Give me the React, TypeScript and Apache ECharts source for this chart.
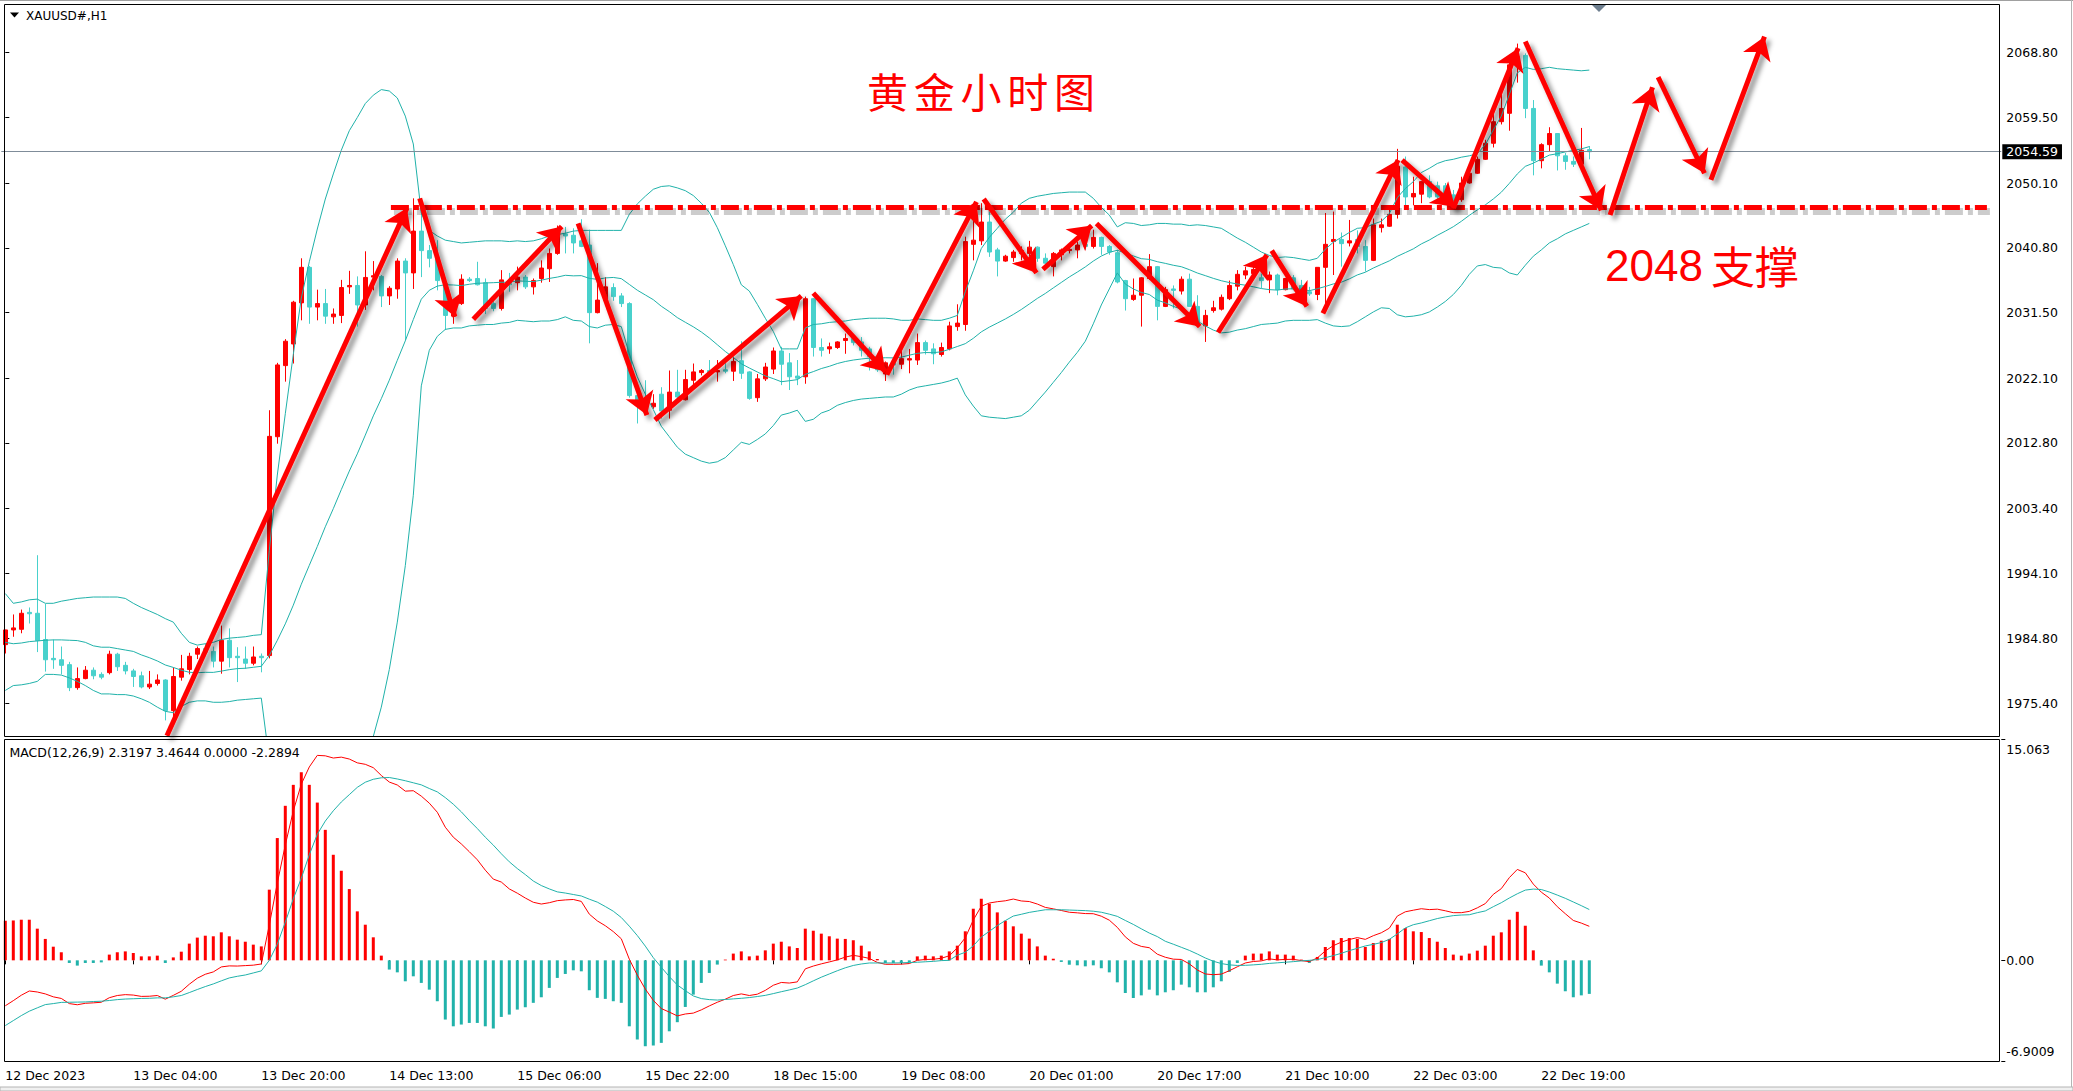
import React, { useEffect, useRef } from 'react';
import * as echarts from 'echarts';

// ---------- axis / label data ----------
const SLOT_COUNT = 250; // visible bar slots incl. empty right-side space
const tickLabels = [
  '12 Dec 2023', '13 Dec 04:00', '13 Dec 20:00', '14 Dec 13:00', '15 Dec 06:00',
  '15 Dec 22:00', '18 Dec 15:00', '19 Dec 08:00', '20 Dec 01:00', '20 Dec 17:00',
  '21 Dec 10:00', '22 Dec 03:00', '22 Dec 19:00',
];
const TICK_EVERY = 16;
const priceTicks = [2068.8, 2059.5, 2050.1, 2040.8, 2031.5, 2022.1, 2012.8, 2003.4, 1994.1, 1984.8, 1975.4];
const PRICE_MIN = 1970.69;
const PRICE_MAX = 2075.71;
const macdTicks = [15.063, 0, -6.9009];
const macdTickLabels = ['15.063', '0.00', '-6.9009'];
const MACD_MIN = -6.9009;
const MACD_MAX = 15.063;
const lastPrice = 2054.59;
const supportLevel = 2046.6;
const supportSpan = [48.2, 247.7];

// ---------- candles (XAUUSD H1) ----------
const opens = [
  1983.87,1985.98,1986.07,1988.5,1988.37,1984.6,1981.9,1981.7,1981.0,1977.7,
  1979.0,1980.2,1979.6,1979.85,1982.5,1980.9,1980.1,1979.4,1977.8,1978.3,
  1978.8,1974.4,1979.2,1980.3,1982.5,1983.3,1982.9,1981.5,1984.5,1982.2,
  1981.8,1981.2,1982.2,1982.3,2013.7,2023.9,2027.0,2032.9,2038.0,2032.3,
  2032.8,2030.9,2031.1,2035.2,2035.4,2032.6,2036.6,2036.7,2033.9,2034.9,
  2038.9,2037.2,2043.2,2040.4,2039.3,2035.7,2031.0,2032.8,2036.3,2036.4,
  2035.8,2032.8,2032.1,2036.1,2035.8,2036.6,2035.2,2036.4,2037.8,2040.0,
  2042.8,2042.6,2041.8,2041.2,2031.5,2033.3,2035.1,2033.9,2032.8,2019.6,
  2018.9,2018.0,2019.8,2017.5,2020.1,2019.0,2021.8,2022.9,2023.2,2023.0,
  2023.3,2023.1,2024.6,2023.0,2019.3,2022.0,2023.4,2026.0,2024.3,2022.4,
  2022.3,2033.5,2026.5,2026.3,2026.5,2027.5,2027.8,2027.3,2026.3,2025.2,
  2022.7,2024.3,2024.1,2024.7,2024.7,2027.2,2026.3,2025.5,2026.3,2029.5,
  2029.8,2041.3,2041.8,2044.5,2040.5,2038.9,2039.4,2040.0,2040.0,2040.9,
  2039.3,2038.1,2039.8,2040.4,2040.5,2041.3,2041.0,2042.3,2041.0,2040.1,
  2036.1,2033.4,2034.0,2036.4,2038.1,2032.4,2034.9,2034.6,2036.3,2032.4,
  2029.6,2031.8,2032.0,2033.5,2035.3,2036.9,2037.1,2036.5,2036.2,2036.9,
  2034.8,2036.5,2035.4,2034.5,2034.1,2038.0,2041.7,2042.0,2041.5,2042.0,
  2041.0,2039.0,2043.7,2043.9,2045.6,2052.4,2048.1,2048.5,2050.3,2049.7,
  2049.7,2048.4,2047.7,2050.1,2051.5,2053.5,2055.8,2058.9,2060.1,2067.0,
  2068.4,2060.8,2053.3,2055.6,2057.2,2054.0,2053.2,2052.8,2054.9,
];
const closes = [
  1985.98,1986.27,1988.37,1988.3,1984.45,1981.7,1981.7,1980.9,1977.7,1979.0,
  1980.2,1979.4,1979.2,1982.5,1980.7,1980.1,1979.3,1977.8,1978.2,1978.8,
  1974.4,1979.3,1980.4,1982.2,1983.3,1982.8,1981.5,1984.5,1982.0,1982.0,
  1981.2,1982.1,1982.0,2013.75,2024.0,2027.4,2033.0,2038.0,2032.3,2032.8,
  2031.0,2031.3,2035.1,2035.4,2032.6,2036.55,2036.8,2033.9,2035.0,2038.9,
  2037.2,2043.2,2040.4,2039.3,2036.1,2031.1,2032.4,2036.3,2036.1,2035.5,
  2032.1,2032.1,2036.2,2035.5,2036.6,2035.2,2036.1,2037.9,2040.0,2042.6,
  2042.5,2041.5,2041.0,2031.5,2033.3,2035.2,2033.8,2032.8,2019.6,2018.9,
  2018.4,2018.5,2017.4,2020.1,2019.4,2021.9,2023.0,2023.2,2022.8,2023.2,
  2023.1,2024.5,2022.8,2019.2,2022.0,2023.7,2026.0,2024.1,2022.3,2022.1,
  2033.5,2026.5,2026.1,2026.6,2027.3,2027.8,2027.2,2026.1,2025.2,2023.3,
  2024.3,2024.0,2024.9,2024.9,2027.2,2026.1,2025.6,2026.5,2029.6,2030.0,
  2041.7,2041.9,2044.5,2040.2,2038.9,2039.6,2040.2,2040.4,2040.9,2039.3,
  2038.6,2040.0,2040.5,2040.6,2041.2,2041.0,2042.3,2041.0,2040.2,2035.9,
  2033.5,2034.0,2036.5,2038.1,2032.4,2034.8,2034.7,2036.3,2032.4,2029.7,
  2031.1,2032.2,2033.7,2035.4,2037.0,2037.5,2037.7,2036.1,2036.9,2034.8,
  2036.4,2034.9,2034.7,2034.2,2038.0,2041.3,2042.0,2041.4,2041.8,2041.0,
  2039.0,2044.1,2044.1,2045.6,2052.5,2048.1,2048.6,2050.3,2048.1,2048.1,
  2048.4,2047.7,2050.1,2051.5,2053.5,2055.8,2058.9,2060.8,2067.05,2068.2,
  2060.8,2053.3,2055.6,2057.2,2054.0,2053.2,2052.8,2054.8,2054.59,
];
const lows = [
  1982.6,1985.0,1985.5,1986.9,1982.8,1980.0,1980.4,1979.6,1977.2,1977.4,
  1978.9,1978.9,1978.9,1979.6,1980.1,1979.6,1977.8,1977.6,1977.5,1978.0,
  1973.0,1973.4,1978.7,1979.6,1981.8,1982.3,1980.6,1979.7,1980.6,1978.5,
  1980.4,1980.9,1979.9,1981.9,2012.7,2021.6,2024.2,2030.4,2029.9,2030.4,
  2029.9,2029.9,2030.0,2034.2,2029.5,2031.9,2034.7,2032.3,2032.6,2033.5,
  2027.5,2034.9,2036.6,2038.0,2034.7,2029.0,2029.9,2032.6,2035.9,2035.4,
  2031.3,2031.7,2031.8,2034.5,2034.7,2034.9,2034.1,2035.8,2035.9,2039.8,
  2040.0,2040.0,2040.9,2027.1,2031.4,2033.0,2033.2,2032.3,2019.3,2015.6,
  2016.8,2017.7,2016.3,2016.3,2018.9,2018.9,2021.1,2022.5,2022.3,2021.6,
  2022.8,2021.7,2022.0,2019.0,2018.7,2021.7,2022.7,2021.1,2020.4,2021.1,
  2021.3,2025.2,2025.2,2025.6,2026.3,2025.6,2026.8,2025.2,2023.2,2023.0,
  2021.7,2022.6,2023.4,2022.8,2024.0,2025.5,2024.1,2025.2,2026.1,2028.9,
  2028.9,2039.0,2041.2,2039.5,2036.7,2038.8,2038.8,2039.0,2039.6,2038.8,
  2038.1,2036.7,2039.0,2040.0,2039.3,2040.5,2040.7,2039.8,2039.8,2035.7,
  2031.8,2033.2,2029.5,2036.2,2030.4,2032.3,2032.1,2034.1,2032.3,2029.5,
  2027.3,2031.5,2031.8,2033.3,2034.7,2036.3,2036.6,2035.0,2034.3,2034.0,
  2034.7,2034.7,2034.2,2033.9,2033.3,2032.3,2036.9,2038.1,2041.0,2040.0,
  2037.4,2038.9,2043.0,2043.8,2045.0,2046.9,2046.9,2047.2,2047.9,2047.7,
  2047.7,2047.4,2047.4,2050.0,2051.4,2053.4,2055.2,2058.5,2057.6,2064.5,
  2059.4,2051.2,2052.2,2054.7,2051.9,2052.0,2052.4,2052.7,2053.5,
];
const highs = [
  1986.0,1988.2,1988.9,1989.2,1996.7,1989.7,1984.6,1983.6,1981.4,1980.6,
  1980.8,1980.6,1979.9,1983.0,1982.7,1981.4,1980.4,1980.0,1980.1,1979.6,
  1978.9,1980.6,1982.4,1982.7,1983.6,1984.0,1983.6,1986.6,1986.2,1983.5,
  1983.6,1983.6,1982.6,2017.5,2024.3,2027.7,2033.2,2039.3,2038.2,2034.8,
  2034.9,2032.1,2036.2,2037.5,2036.7,2040.3,2038.9,2036.9,2035.3,2039.3,
  2039.3,2047.9,2047.9,2041.2,2041.9,2036.1,2032.9,2037.0,2036.6,2038.8,
  2036.4,2033.3,2037.6,2037.2,2038.1,2036.9,2036.4,2039.0,2040.7,2044.0,
  2043.8,2043.6,2044.9,2043.4,2038.6,2036.6,2035.7,2034.3,2033.0,2020.3,
  2021.8,2019.8,2020.8,2023.2,2023.3,2023.3,2024.2,2023.4,2024.7,2024.7,
  2024.4,2025.2,2027.4,2023.1,2022.7,2024.3,2026.5,2026.6,2025.7,2024.7,
  2033.8,2033.6,2027.8,2027.2,2027.4,2028.5,2028.0,2028.0,2026.6,2025.6,
  2024.5,2024.7,2026.2,2026.3,2028.5,2027.5,2027.1,2027.2,2030.2,2032.7,
  2042.4,2046.2,2047.2,2046.0,2040.8,2039.8,2040.5,2041.0,2041.8,2041.0,
  2040.0,2040.2,2040.7,2041.0,2041.7,2041.9,2043.4,2042.4,2041.2,2040.5,
  2036.2,2036.4,2036.6,2039.9,2038.2,2035.2,2035.4,2036.7,2037.1,2034.0,
  2031.9,2033.2,2034.1,2036.1,2037.6,2038.1,2038.6,2037.1,2037.4,2037.1,
  2036.5,2036.9,2036.2,2035.2,2038.0,2045.8,2046.0,2043.0,2044.8,2043.3,
  2041.9,2045.0,2045.0,2046.9,2055.0,2053.9,2051.0,2050.3,2051.2,2050.3,
  2050.1,2049.1,2051.0,2052.7,2053.9,2056.3,2060.7,2063.5,2067.5,2070.1,
  2068.7,2062.0,2055.8,2058.1,2057.2,2054.4,2053.9,2058.0,2055.4,
];

// ---------- Bollinger bands (20, 2) ----------
const bbUpper = [
  1991.2,1989.8,1990.0,1990.3,1990.4,1989.8,1989.8,1990.1,1990.3,1990.5,
  1990.6,1990.7,1990.7,1990.7,1990.7,1990.5,1989.8,1989.2,1988.7,1988.2,
  1987.6,1987.1,1985.5,1984.2,1983.8,1984.0,1984.2,1984.6,1984.8,1984.9,
  1985.0,1985.2,1985.3,1997.4,2008.2,2017.0,2025.5,2033.6,2038.8,2043.5,
  2047.8,2051.4,2054.8,2057.6,2059.5,2061.5,2062.7,2063.5,2063.3,2062.3,
  2059.7,2055.7,2045.8,2043.3,2042.5,2041.9,2041.7,2041.5,2041.6,2041.7,
  2041.8,2041.8,2041.8,2041.7,2041.8,2041.7,2041.8,2042.1,2042.5,2042.7,
  2042.9,2043.2,2043.3,2043.3,2043.3,2043.3,2043.3,2043.3,2045.6,2047.1,
  2048.2,2049.2,2049.6,2049.7,2049.4,2049.0,2048.3,2047.2,2045.9,2043.7,
  2041.1,2038.4,2035.5,2034.6,2032.7,2030.7,2028.8,2026.3,2026.3,2026.3,
  2029.3,2029.8,2029.9,2030.1,2030.2,2030.3,2030.5,2030.6,2030.7,2030.7,
  2030.7,2030.6,2030.4,2030.4,2030.6,2030.5,2030.4,2030.4,2030.7,2031.1,
  2034.5,2037.5,2040.7,2042.3,2043.6,2044.9,2045.9,2047.2,2047.9,2048.2,
  2048.4,2048.6,2048.7,2048.8,2048.8,2048.8,2047.9,2046.6,2045.5,2043.8,
  2044.4,2044.3,2044.0,2044.1,2044.3,2044.3,2044.2,2044.2,2044.0,2044.1,
  2044.0,2043.8,2043.6,2042.9,2042.2,2041.6,2040.9,2040.2,2039.7,2039.4,
  2039.5,2039.4,2039.2,2039.0,2039.3,2040.6,2041.6,2042.3,2043.0,2043.6,
  2043.7,2044.2,2044.6,2045.7,2048.0,2049.3,2050.3,2051.6,2052.2,2052.9,
  2053.3,2053.5,2053.8,2054.0,2054.3,2055.6,2057.7,2059.7,2062.8,2065.9,
  2066.7,2066.4,2066.5,2066.7,2066.5,2066.4,2066.3,2066.2,2066.3,
];
const bbMid = [
  1984.2,1984.0,1984.1,1984.3,1984.4,1984.5,1984.55,1984.55,1984.5,1984.45,
  1984.2,1983.7,1983.5,1983.5,1983.3,1983.1,1982.9,1982.4,1982.0,1981.53,
  1980.95,1980.6,1980.2,1979.9,1979.84,1979.9,1979.89,1980.07,1980.28,1980.43,
  1980.48,1980.62,1980.76,1982.32,1984.48,1986.85,1989.53,1992.54,1995.25,1997.95,
  2000.78,2003.38,2006.11,2008.77,2011.24,2013.93,2016.69,2019.16,2021.81,2024.66,
  2027.46,2030.51,2033.43,2034.71,2035.31,2035.5,2035.47,2035.38,2035.57,2035.71,
  2035.76,2035.8,2035.86,2035.86,2036.06,2036.0,2035.96,2036.16,2036.41,2036.6,
  2036.86,2036.78,2036.81,2036.42,2036.28,2036.48,2036.55,2036.38,2035.55,2034.72,
  2034.04,2033.36,2032.42,2031.65,2030.79,2030.12,2029.47,2028.73,2027.87,2026.9,
  2025.93,2025.08,2024.17,2023.56,2022.99,2022.42,2022.03,2021.59,2021.73,2021.89,
  2022.64,2023.04,2023.48,2023.8,2024.2,2024.49,2024.7,2024.85,2024.97,2024.97,
  2025.03,2025.01,2025.11,2025.4,2025.66,2025.78,2025.76,2025.88,2026.24,2026.64,
  2027.05,2027.82,2028.74,2029.42,2030.0,2030.59,2031.24,2031.95,2032.74,2033.54,
  2034.25,2035.05,2035.83,2036.62,2037.32,2038.06,2038.9,2039.62,2040.15,2040.45,
  2040.04,2039.64,2039.24,2039.14,2038.81,2038.57,2038.3,2038.09,2037.67,2037.19,
  2036.81,2036.42,2036.08,2035.82,2035.61,2035.44,2035.21,2034.96,2034.8,2034.74,
  2034.89,2034.93,2034.84,2034.65,2034.93,2035.25,2035.62,2035.87,2036.34,2036.91,
  2037.3,2037.9,2038.42,2038.93,2039.58,2040.11,2040.65,2041.36,2041.92,2042.59,
  2043.19,2043.83,2044.6,2045.46,2046.24,2046.96,2047.81,2048.78,2050.04,2051.4,
  2052.49,2052.95,2053.52,2054.1,2054.3,2054.56,2054.77,2054.99,2055.32,
];
const bbLower = [
  1977.3,1978.0,1978.1,1978.3,1978.6,1979.6,1979.6,1979.5,1979.1,1978.6,
  1978.0,1977.3,1976.8,1976.8,1976.7,1976.7,1976.5,1976.1,1975.6,1974.9,
  1974.3,1974.1,1975.0,1975.6,1975.8,1975.8,1975.6,1975.6,1975.7,1975.9,
  1976.0,1976.1,1976.2,1967.3,1960.8,1956.8,1953.5,1951.4,1951.8,1952.5,
  1953.8,1955.4,1957.4,1960.0,1962.9,1966.3,1970.7,1974.9,1980.3,1987.1,
  1995.2,2005.3,2021.0,2026.1,2028.1,2029.1,2029.3,2029.3,2029.6,2029.7,
  2029.8,2029.8,2030.0,2030.1,2030.4,2030.3,2030.2,2030.3,2030.3,2030.5,
  2030.9,2030.4,2030.3,2029.5,2029.3,2029.7,2029.8,2029.5,2025.6,2022.3,
  2019.8,2017.6,2015.2,2013.7,2012.2,2011.2,2010.7,2010.2,2009.9,2010.1,
  2010.7,2011.8,2012.9,2012.6,2013.3,2014.1,2015.3,2016.8,2017.1,2017.5,
  2015.9,2016.2,2017.1,2017.5,2018.2,2018.6,2018.9,2019.1,2019.2,2019.3,
  2019.4,2019.4,2019.8,2020.4,2020.8,2021.0,2021.2,2021.4,2021.7,2022.1,
  2019.7,2018.1,2016.7,2016.5,2016.4,2016.3,2016.5,2016.7,2017.5,2018.8,
  2020.1,2021.5,2022.9,2024.4,2025.8,2027.4,2029.9,2032.6,2034.9,2037.2,
  2035.6,2034.9,2034.4,2034.1,2033.3,2032.9,2032.4,2032.0,2031.4,2030.3,
  2029.6,2029.0,2028.6,2028.7,2029.0,2029.2,2029.5,2029.8,2029.9,2030.0,
  2030.3,2030.4,2030.4,2030.4,2030.5,2030.0,2029.6,2029.5,2029.6,2030.2,
  2030.9,2031.6,2032.2,2032.1,2031.2,2030.9,2031.0,2031.2,2031.6,2032.3,
  2033.1,2034.1,2035.4,2037.0,2038.2,2038.4,2038.0,2037.9,2037.2,2036.9,
  2038.3,2039.6,2040.5,2041.5,2042.1,2042.8,2043.3,2043.8,2044.3,
];

// ---------- MACD (12, 26, 9) ----------
const macdHist = [
  2.70,2.72,2.77,2.77,2.16,1.46,0.93,0.55,-0.18,-0.36,
  -0.18,-0.18,-0.14,0.39,0.55,0.61,0.50,0.27,0.27,0.32,
  -0.18,0.20,0.59,1.14,1.55,1.68,1.64,1.91,1.64,1.41,
  1.27,1.07,0.95,4.82,8.34,10.54,11.97,12.83,11.97,10.76,
  8.90,7.20,6.11,4.86,3.34,2.43,1.57,0.32,-0.63,-0.82,
  -1.43,-1.09,-1.54,-2.00,-2.79,-4.04,-4.50,-4.38,-4.27,-4.27,
  -4.50,-4.65,-3.86,-3.70,-3.36,-3.20,-2.90,-2.52,-1.88,-1.20,
  -0.93,-0.68,-0.75,-2.04,-2.56,-2.63,-2.79,-2.90,-4.50,-5.40,
  -5.86,-5.81,-5.63,-4.84,-4.22,-3.18,-2.34,-1.54,-0.86,-0.29,
  0.05,0.46,0.61,0.27,0.32,0.68,1.14,1.27,0.95,0.84,
  2.16,2.02,1.82,1.64,1.48,1.46,1.37,1.00,0.61,0.09,
  -0.18,-0.18,-0.18,-0.14,0.27,0.32,0.27,0.32,0.61,1.00,
  1.98,3.52,4.20,3.86,3.27,2.70,2.32,1.82,1.48,0.95,
  0.32,0.11,-0.11,-0.30,-0.34,-0.41,-0.34,-0.54,-0.82,-1.50,
  -2.23,-2.57,-2.39,-2.00,-2.39,-2.18,-2.04,-1.66,-1.84,-2.18,
  -2.18,-1.84,-1.43,-0.79,-0.18,0.32,0.46,0.46,0.61,0.39,
  0.39,0.32,0.05,-0.18,0.23,0.91,1.37,1.52,1.52,1.46,
  0.91,1.18,1.34,1.46,2.43,2.20,1.98,1.93,1.52,1.27,
  0.84,0.39,0.32,0.46,0.66,1.00,1.68,1.91,2.77,3.31,
  2.36,0.68,-0.36,-0.82,-1.59,-2.11,-2.52,-2.39,-2.2894,
];
const macdDea = [
  -4.45,-4.11,-3.77,-3.47,-3.24,-3.02,-2.95,-2.87,-2.86,-2.85,
  -2.84,-2.81,-2.79,-2.74,-2.68,-2.64,-2.62,-2.60,-2.59,-2.56,
  -2.56,-2.49,-2.40,-2.20,-1.99,-1.79,-1.61,-1.40,-1.20,-1.09,
  -1.00,-0.86,-0.72,0.0,1.1,2.6,4.2,5.6,7.2,8.6,
  9.5,10.2,10.8,11.3,11.8,12.15,12.35,12.45,12.47,12.37,
  12.25,12.11,11.97,11.72,11.49,11.10,10.65,10.13,9.54,8.99,
  8.40,7.86,7.27,6.72,6.26,5.85,5.41,5.10,4.87,4.67,
  4.59,4.49,4.39,4.17,3.97,3.67,3.35,2.92,2.33,1.69,
  0.97,0.18,-0.47,-1.11,-1.68,-2.07,-2.43,-2.61,-2.68,-2.71,
  -2.67,-2.63,-2.59,-2.54,-2.47,-2.39,-2.27,-2.14,-2.02,-1.89,
  -1.66,-1.40,-1.15,-0.93,-0.71,-0.51,-0.35,-0.25,-0.18,-0.18,
  -0.18,-0.18,-0.17,-0.15,-0.13,-0.10,-0.07,-0.02,0.0,0.35,
  0.55,0.99,1.59,1.98,2.37,2.71,3.02,3.14,3.27,3.36,
  3.45,3.45,3.45,3.43,3.41,3.39,3.35,3.28,3.15,3.0,
  2.72,2.45,2.15,1.86,1.62,1.30,1.10,0.89,0.68,0.43,
  0.16,-0.06,-0.22,-0.31,-0.35,-0.34,-0.31,-0.27,-0.21,-0.17,
  -0.13,-0.09,-0.04,0.0,0.05,0.18,0.32,0.48,0.66,0.82,
  0.98,1.09,1.21,1.43,1.80,2.21,2.43,2.55,2.70,2.85,
  2.96,3.05,3.09,3.11,3.25,3.37,3.66,3.93,4.25,4.54,
  4.79,4.86,4.83,4.66,4.45,4.23,3.98,3.73,3.4644,
];
const macdDif = [
  -3.10,-2.75,-2.38,-2.09,-2.16,-2.29,-2.49,-2.60,-2.95,-3.03,
  -2.93,-2.90,-2.86,-2.55,-2.40,-2.34,-2.37,-2.46,-2.45,-2.40,
  -2.65,-2.39,-2.11,-1.63,-1.22,-0.95,-0.79,-0.45,-0.38,-0.39,
  -0.36,-0.33,-0.25,2.41,5.27,7.87,10.19,12.02,13.19,13.98,
  13.95,13.80,13.86,13.73,13.47,13.37,13.14,12.61,12.16,11.96,
  11.54,11.57,11.20,10.72,10.10,9.08,8.40,7.94,7.41,6.86,
  6.15,5.54,5.34,4.87,4.58,4.25,3.96,3.84,3.93,4.07,
  4.12,4.15,4.02,3.15,2.69,2.36,1.96,1.47,0.08,-1.01,
  -1.96,-2.73,-3.29,-3.53,-3.79,-3.66,-3.60,-3.38,-3.11,-2.86,
  -2.65,-2.40,-2.29,-2.40,-2.31,-2.05,-1.70,-1.51,-1.55,-1.47,
  -0.58,-0.39,-0.24,-0.11,0.03,0.22,0.34,0.25,0.13,-0.14,
  -0.27,-0.27,-0.26,-0.22,0.0,0.06,0.07,0.14,0.31,0.85,
  1.54,2.75,3.69,3.91,4.00,4.06,4.18,4.05,4.01,3.84,
  3.61,3.51,3.40,3.28,3.24,3.19,3.18,3.01,2.74,2.25,
  1.60,1.16,0.95,0.86,0.42,0.21,0.08,0.06,-0.24,-0.66,
  -0.93,-0.98,-0.94,-0.71,-0.44,-0.18,-0.08,-0.04,0.10,0.03,
  0.06,0.07,-0.02,-0.09,0.16,0.64,1.00,1.24,1.42,1.55,
  1.43,1.68,1.88,2.19,3.02,3.31,3.42,3.52,3.46,3.49,
  3.38,3.25,3.25,3.34,3.58,3.87,4.50,4.89,5.64,6.20,
  5.97,5.20,4.65,4.25,3.66,3.18,2.72,2.54,2.3197,
];

// ---------- hand-drawn arrows: [barFrom, priceFrom, barTo, priceTo] ----------
const arrows = [
  [20.2, 1970.8, 50.2, 2046.5],
  [51.8, 2047.9, 56.2, 2030.9],
  [58.5, 2030.55, 69.55, 2043.85],
  [71.6, 2044.3, 80.2, 2016.8],
  [81.2, 2016.1, 99.5, 2033.9],
  [101.0, 2034.3, 110.0, 2023.05],
  [110.2, 2022.6, 121.4, 2047.4],
  [122.3, 2047.8, 128.9, 2037.2],
  [129.7, 2037.7, 135.8, 2044.0],
  [136.4, 2044.3, 149.3, 2029.5],
  [151.6, 2028.65, 157.7, 2039.8],
  [158.3, 2040.4, 162.7, 2032.4],
  [164.7, 2031.4, 174.1, 2053.4],
  [174.6, 2053.4, 181.2, 2046.7],
  [181.0, 2046.5, 189.1, 2069.45],
  [190.0, 2070.4, 199.5, 2046.2],
  [200.6, 2045.5, 205.9, 2063.85],
  [206.6, 2065.3, 212.4, 2051.5],
  [213.2, 2050.55, 219.9, 2071.1],
];

const titleText = '黄金小时图';
const supportText = ['2048', '支撑'];
const symbolText = 'XAUUSD#,H1';
const macdText = 'MACD(12,26,9) 2.3197 3.4644 0.0000 -2.2894';

const RED = '#FF0000';
const TEAL_CANDLE = '#48D1CC';
const TEAL_LINE = '#20B2AA';
const FONT = 'DejaVu Sans';

// main panel geometry (px) used to place the hand-drawn shadow of the support line
const MAIN_PLOT_HEIGHT = 732;
const SLOT_PX = 8;
const SHADOW_PX = { dx: 3, dy: 4 };

function buildOption() {
  const slots = Array.from({ length: SLOT_COUNT }, (_, i) => String(i));
  const candleData = opens.map((o, i) => [o, closes[i], lows[i], highs[i]]);
  const showTick = (i: number) => i % TICK_EVERY === 0 && i / TICK_EVERY < tickLabels.length;
  const shadow = {
    shadowColor: 'rgba(0,0,0,0.45)',
    shadowBlur: 5,
    shadowOffsetX: 4,
    shadowOffsetY: 4,
  };
  const pricePerPx = (PRICE_MAX - PRICE_MIN) / MAIN_PLOT_HEIGHT;
  const shadowDx = SHADOW_PX.dx / SLOT_PX;
  const shadowDy = SHADOW_PX.dy * pricePerPx;

  return {
    animation: false,
    backgroundColor: '#ffffff',
    textStyle: { fontFamily: FONT },
    grid: [
      { left: 1.3, top: 4.5, width: 2000, height: 732, show: false },
      { left: 1.3, top: 739.5, width: 2000, height: 322, show: false },
    ],
    xAxis: [
      { type: 'category', gridIndex: 0, data: slots, boundaryGap: true, show: false },
      {
        type: 'category',
        gridIndex: 1,
        data: slots,
        boundaryGap: true,
        axisLine: { show: false },
        splitLine: { show: false },
        axisTick: {
          show: true,
          alignWithLabel: true,
          interval: (i: number) => showTick(i),
          length: 4,
          lineStyle: { color: '#000', width: 1 },
        },
        axisLabel: {
          show: true,
          interval: (i: number) => showTick(i),
          formatter: (_v: string, i: number) => tickLabels[i / TICK_EVERY] ?? '',
          align: 'left',
          margin: 7,
          fontSize: 12.5,
          color: '#000',
          fontFamily: FONT,
        },
      },
      { type: 'value', gridIndex: 0, min: -0.5, max: SLOT_COUNT - 0.5, show: false },
    ],
    yAxis: [
      {
        type: 'value',
        gridIndex: 0,
        position: 'right',
        min: PRICE_MIN,
        max: PRICE_MAX,
        splitLine: { show: false },
        axisLine: { show: false },
        axisTick: { show: true, customValues: priceTicks, length: 4, lineStyle: { color: '#000' } },
        axisLabel: {
          show: true,
          customValues: priceTicks,
          formatter: (v: number) => v.toFixed(2),
          margin: 5,
          fontSize: 12.5,
          color: '#000',
          fontFamily: FONT,
          showMinLabel: true,
          showMaxLabel: true,
        },
      },
      {
        type: 'value',
        gridIndex: 1,
        position: 'right',
        min: MACD_MIN,
        max: MACD_MAX,
        splitLine: { show: false },
        axisLine: { show: false },
        axisTick: { show: true, customValues: macdTicks, length: 4, lineStyle: { color: '#000' } },
        axisLabel: {
          show: true,
          customValues: macdTicks,
          showMinLabel: true,
          showMaxLabel: true,
          formatter: (v: number) => {
            const idx = macdTicks.findIndex((t) => Math.abs(t - v) < 1e-6);
            const txt = idx >= 0 ? macdTickLabels[idx] : '';
            if (idx === 0) return '{t|' + txt + '}';
            if (idx === macdTicks.length - 1) return '{b|' + txt + '}';
            return txt;
          },
          margin: 5,
          fontSize: 12.5,
          color: '#000',
          fontFamily: FONT,
          rich: {
            t: { padding: [20, 0, 0, 0], fontSize: 12.5, color: '#000', fontFamily: FONT },
            b: { padding: [0, 0, 20, 0], fontSize: 12.5, color: '#000', fontFamily: FONT },
          },
        },
      },
    ],
    series: [
      {
        name: 'XAUUSD',
        type: 'candlestick',
        xAxisIndex: 0,
        yAxisIndex: 0,
        data: candleData,
        barWidth: 4,
        z: 2,
        itemStyle: {
          color: RED,
          color0: TEAL_CANDLE,
          borderColor: RED,
          borderColor0: TEAL_CANDLE,
          borderWidth: 1,
        },
        markLine: {
          silent: true,
          symbol: ['none', 'none'],
          animation: false,
          data: [{ yAxis: lastPrice }],
          lineStyle: { color: '#7F8C99', width: 1, type: 'solid' },
          label: {
            show: true,
            position: 'end',
            distance: 1,
            formatter: lastPrice.toFixed(2),
            color: '#ffffff',
            backgroundColor: '#000000',
            padding: [1, 4, 1, 4],
            lineHeight: 13,
            fontSize: 12.5,
            fontFamily: FONT,
          },
          emphasis: { disabled: true },
        },
      },
      {
        name: 'BB upper', type: 'line', xAxisIndex: 0, yAxisIndex: 0, data: bbUpper,
        showSymbol: false, symbol: 'none', z: 3, lineStyle: { color: TEAL_LINE, width: 1 },
      },
      {
        name: 'BB mid', type: 'line', xAxisIndex: 0, yAxisIndex: 0, data: bbMid,
        showSymbol: false, symbol: 'none', z: 3, lineStyle: { color: TEAL_LINE, width: 1 },
      },
      {
        name: 'BB lower', type: 'line', xAxisIndex: 0, yAxisIndex: 0, data: bbLower,
        showSymbol: false, symbol: 'none', z: 3, lineStyle: { color: TEAL_LINE, width: 1 },
      },
      {
        // soft shadow of the horizontal support line (a filter would blank a zero-height line)
        name: 'support shadow', type: 'line', xAxisIndex: 2, yAxisIndex: 0, data: [], z: 5,
        markLine: {
          silent: true,
          animation: false,
          symbol: ['none', 'none'],
          label: { show: false },
          emphasis: { disabled: true },
          lineStyle: { color: 'rgba(0,0,0,0.2)', width: 7, type: [18, 5, 5, 5] },
          data: [[
            { coord: [supportSpan[0] + shadowDx, supportLevel - shadowDy] },
            { coord: [supportSpan[1] + shadowDx, supportLevel - shadowDy] },
          ]],
        },
      },
      {
        name: 'support', type: 'line', xAxisIndex: 2, yAxisIndex: 0, data: [], z: 6,
        markLine: {
          silent: true,
          animation: false,
          symbol: ['none', 'none'],
          label: { show: false },
          emphasis: { disabled: true },
          lineStyle: { color: RED, width: 5, type: [18, 5, 5, 5] },
          data: [[{ coord: [supportSpan[0], supportLevel] }, { coord: [supportSpan[1], supportLevel] }]],
        },
      },
      {
        name: 'arrows', type: 'line', xAxisIndex: 2, yAxisIndex: 0, data: [], z: 7,
        markLine: {
          silent: true,
          animation: false,
          symbol: ['none', 'arrow'],
          symbolSize: 22,
          label: { show: false },
          emphasis: { disabled: true },
          lineStyle: { color: RED, width: 5, type: 'solid', ...shadow },
          data: arrows.map(([x1, y1, x2, y2]) => [{ coord: [x1, y1] }, { coord: [x2, y2] }]),
        },
      },
      {
        name: 'MACD hist', type: 'bar', xAxisIndex: 1, yAxisIndex: 1, data: macdHist,
        barWidth: 3,
        itemStyle: { color: (p: any) => (p.value >= 0 ? RED : TEAL_LINE) },
      },
      {
        name: 'DIF', type: 'line', xAxisIndex: 1, yAxisIndex: 1, data: macdDif,
        showSymbol: false, symbol: 'none', z: 4, lineStyle: { color: RED, width: 1 },
      },
      {
        name: 'DEA', type: 'line', xAxisIndex: 1, yAxisIndex: 1, data: macdDea,
        showSymbol: false, symbol: 'none', z: 4, lineStyle: { color: TEAL_LINE, width: 1 },
      },
    ],
    graphic: [
      // window edges
      { type: 'line', silent: true, z: 100, shape: { x1: 0, y1: 0.5, x2: 2073, y2: 0.5 }, style: { stroke: '#A0A0A0', lineWidth: 1 } },
      { type: 'line', silent: true, z: 100, shape: { x1: 2071.5, y1: 0, x2: 2071.5, y2: 1091 }, style: { stroke: '#B4B4B4', lineWidth: 1 } },
      { type: 'rect', silent: true, z: 100, shape: { x: 0, y: 1087, width: 2073, height: 4 }, style: { fill: '#F0F0F0', stroke: '#B4B4B4', lineWidth: 1 } },
      // panel frames
      { type: 'rect', silent: true, z: 100, shape: { x: 4.5, y: 4.5, width: 1995, height: 732 }, style: { fill: 'none', stroke: '#000', lineWidth: 1 } },
      { type: 'rect', silent: true, z: 100, shape: { x: 4.5, y: 739.5, width: 1995, height: 322 }, style: { fill: 'none', stroke: '#000', lineWidth: 1 } },
      // chart-shift marker
      { type: 'polygon', silent: true, z: 101, shape: { points: [[1592, 5], [1606, 5], [1599, 12]] }, style: { fill: '#6E7F8F' } },
      // symbol caption
      { type: 'polygon', silent: true, z: 101, shape: { points: [[10, 12.5], [19, 12.5], [14.5, 17.5]] }, style: { fill: '#000' } },
      {
        type: 'text', silent: true, z: 101, x: 26, y: 16,
        style: { text: symbolText, fontSize: 12, fontFamily: FONT, fill: '#000', verticalAlign: 'middle', align: 'left' },
      },
      {
        type: 'text', silent: true, z: 101, x: 9.5, y: 752.5,
        style: { text: macdText, fontSize: 12.5, fontFamily: FONT, fill: '#000', verticalAlign: 'middle', align: 'left' },
      },
      // chart title
      {
        type: 'text', silent: true, z: 101, x: 864, y: 90,
        style: {
          text: titleText.split('').map((c) => '{c|' + c + '}').join(''),
          verticalAlign: 'middle',
          align: 'left',
          rich: {
            c: { fontSize: 41, fontFamily: 'Noto Sans CJK SC', fill: RED, padding: [0, 2.9, 0, 2.9] },
          },
        },
      },
      // support caption
      {
        type: 'text', silent: true, z: 101, x: 1605, y: 265,
        style: {
          text: '{a|' + supportText[0] + '}{b|' + supportText[1] + '}',
          verticalAlign: 'middle',
          align: 'left',
          rich: {
            a: { fontSize: 44, fontFamily: 'Liberation Sans', fill: RED },
            b: { fontSize: 44, fontFamily: 'Noto Sans CJK SC', fill: RED, padding: [0, 0, 0, 8] },
          },
        },
      },
    ],
  };
}

export default function App() {
  const ref = useRef<HTMLDivElement>(null);
  useEffect(() => {
    document.body.style.margin = '0';
    const chart = echarts.init(ref.current as HTMLDivElement, null, { renderer: 'svg' });
    chart.setOption(buildOption() as any);
    return () => {
      chart.dispose();
    };
  }, []);
  return (
    <div
      ref={ref}
      style={{ position: 'absolute', left: 0, top: 0, width: 2073, height: 1091, background: '#ffffff' }}
    />
  );
}
